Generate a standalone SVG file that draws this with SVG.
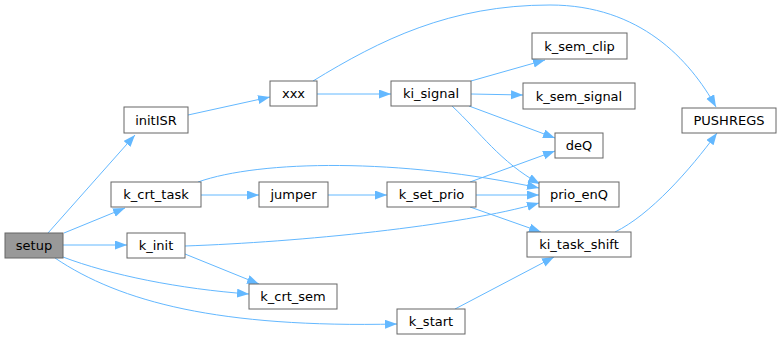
<svg xmlns="http://www.w3.org/2000/svg" width="781" height="340" viewBox="0 0 781 340">
<style>
.n rect{fill:#fff;stroke:#666;stroke-width:1}
.n text{font-family:"DejaVu Sans",sans-serif;font-size:13px;fill:#000;text-anchor:middle}
.e path{fill:none;stroke:#63b8ff;stroke-width:1;marker-end:url(#ah)}
</style>
<defs>
<marker id="ah" markerUnits="userSpaceOnUse" markerWidth="13" markerHeight="10" refX="12" refY="4.5" orient="auto">
<polygon points="0,0 12,4.5 0,9" fill="#63b8ff"/>
</marker>
</defs>
<rect width="781" height="340" fill="#fff"/>
<g id="edges" class="e">
<path d="M48,233 L135,135"/>
<path d="M64,233 L125,208"/>
<path d="M63,245 L127,245"/>
<path d="M63,257 C110,275 180,289 249,294"/>
<path d="M55,258 C120,302 220,328 397,324"/>
<path d="M185,254 L259,284"/>
<path d="M185,246 C300,242 460,226 539,203"/>
<path d="M201,195 L259,195"/>
<path d="M198,182 C260,160 400,158 539,188"/>
<path d="M188,115 L270,97"/>
<path d="M317,94 L391,94"/>
<path d="M313,81 C380,40 450,5 550,5 C640,5 690,60 716,107"/>
<path d="M471,81 L545,60"/>
<path d="M471,94 L523,95"/>
<path d="M469,106 L555,138"/>
<path d="M452,106 C480,132 500,162 540,184"/>
<path d="M328,195 L387,195"/>
<path d="M470,182 L555,151"/>
<path d="M476,195 L539,195"/>
<path d="M470,207 L541,232"/>
<path d="M455,309 L554,257"/>
<path d="M615,232 C650,215 690,170 717,133"/>
</g>
<g id="setup" class="n"><rect x="5" y="233" width="58" height="25" style="fill:#999"/><text x="34" y="249.5">setup</text></g>
<g id="initISR" class="n"><rect x="124" y="107" width="64" height="26"/><text x="156" y="124.5">initISR</text></g>
<g id="k_crt_task" class="n"><rect x="111" y="182" width="90" height="25"/><text x="156" y="198.5">k_crt_task</text></g>
<g id="k_init" class="n"><rect x="127" y="233" width="58" height="25"/><text x="156" y="249.5">k_init</text></g>
<g id="k_crt_sem" class="n"><rect x="249" y="284" width="88" height="25"/><text x="293" y="300.5">k_crt_sem</text></g>
<g id="k_start" class="n"><rect x="397" y="309" width="68" height="25"/><text x="431" y="325.5">k_start</text></g>
<g id="xxx" class="n"><rect x="270" y="81" width="47" height="25"/><text x="293.5" y="97.5">xxx</text></g>
<g id="ki_signal" class="n"><rect x="391" y="81" width="80" height="25"/><text x="431" y="97.5">ki_signal</text></g>
<g id="jumper" class="n"><rect x="259" y="182" width="69" height="25"/><text x="293.5" y="198.5">jumper</text></g>
<g id="k_set_prio" class="n"><rect x="387" y="182" width="89" height="25"/><text x="431.5" y="198.5">k_set_prio</text></g>
<g id="k_sem_clip" class="n"><rect x="532" y="33" width="95" height="26"/><text x="579.5" y="50.5">k_sem_clip</text></g>
<g id="k_sem_signal" class="n"><rect x="523" y="83" width="112" height="26"/><text x="579" y="100.5">k_sem_signal</text></g>
<g id="deQ" class="n"><rect x="555" y="133" width="48" height="25"/><text x="579" y="149.5">deQ</text></g>
<g id="prio_enQ" class="n"><rect x="539" y="182" width="80" height="25"/><text x="579" y="198.5">prio_enQ</text></g>
<g id="ki_task_shift" class="n"><rect x="527" y="232" width="104" height="25"/><text x="579" y="248.5">ki_task_shift</text></g>
<g id="PUSHREGS" class="n"><rect x="682" y="108" width="94" height="25"/><text x="729" y="124.5">PUSHREGS</text></g>
</svg>
